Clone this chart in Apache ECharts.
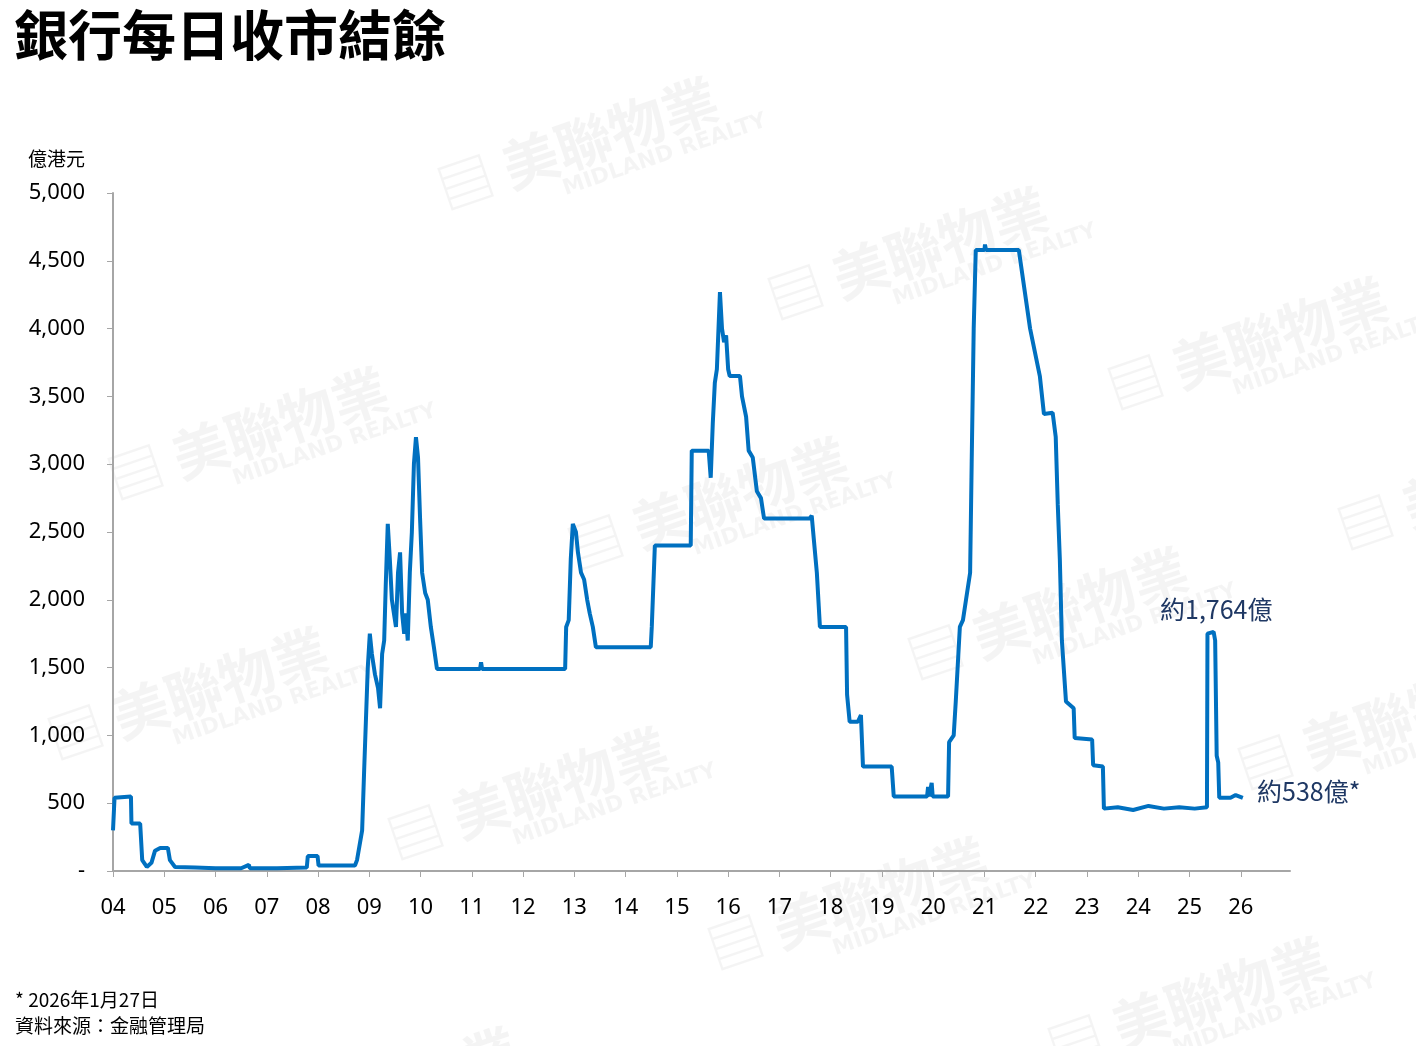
<!DOCTYPE html>
<html><head><meta charset="utf-8">
<script src="https://cdn.jsdelivr.net/npm/echarts@6/dist/echarts.min.js"></script>
<style>html,body{margin:0;padding:0;background:#fff}#c{width:1416px;height:1046px}</style>
</head><body><div id="c"></div>
<script>
// time in decimal years, balance in HK$100m
const years = [
 2004.00,2004.03,2004.06,2004.35,2004.36,2004.53,2004.57,2004.66,2004.75,2004.82,2004.92,2005.07,2005.11,2005.21,2005.6,2006.0,2006.5,2006.65,2006.67,2007.2,2007.78,2007.80,2007.99,2008.01,2008.72,
 2008.76,2008.86,2008.90,2008.97,2009.01,2009.05,2009.11,2009.17,2009.21,2009.25,2009.29,2009.32,2009.36,2009.40,2009.44,2009.48,2009.52,2009.56,2009.60,2009.64,2009.68,2009.71,2009.75,2009.79,2009.83,2009.87,2009.91,2009.95,2009.99,2010.03,2010.09,2010.14,2010.20,2010.26,2010.32,
 2011.16,2011.18,2011.20,2012.82,
 2012.84,2012.89,2012.93,2012.97,2013.03,2013.07,2013.13,2013.19,2013.25,2013.30,2013.36,2013.42,2014.49,
 2014.51,2014.57,2015.27,2015.29,2015.62,2015.66,2015.70,2015.74,2015.78,2015.84,2015.88,2015.92,2015.96,2016.00,2016.03,2016.23,2016.27,2016.35,2016.40,2016.48,2016.56,2016.64,2016.70,2017.59,
 2017.63,2017.67,2017.73,2017.79,2018.30,2018.32,2018.37,2018.53,2018.59,2018.63,2018.75,2019.19,2019.23,
 2019.88,2019.90,2019.92,2019.97,2019.99,2020.01,2020.29,2020.31,2020.40,2020.44,2020.52,2020.58,2020.64,2020.72,2020.75,2020.79,2020.83,2021.00,2021.01,2021.03,2021.67,
 2021.89,2022.08,2022.16,2022.33,2022.39,2022.43,2022.47,2022.51,2022.59,2022.74,2022.76,2023.10,2023.12,2023.31,2023.33,
 2023.6,2023.9,2024.2,2024.5,2024.8,2025.1,2025.34,2025.35,2025.47,2025.50,2025.53,2025.56,2025.58,2025.8,2025.9,2026.04];
const balance = [
 300,540,550,550,350,350,80,30,60,150,170,170,80,30,25,20,20,45,20,20,25,110,110,40,40,
 80,300,750,1500,1750,1600,1450,1350,1200,1600,1700,2100,2560,2300,2000,1900,1800,2200,2350,1900,1750,1900,1700,2200,2500,3000,3200,3050,2600,2200,2050,2000,1800,1650,1490,
 1490,1540,1490,1490,
 1800,1850,2300,2560,2500,2350,2200,2150,2000,1900,1800,1650,1650,
 1800,2400,2400,3100,3100,2900,3300,3600,3700,4270,4000,3900,3950,3700,3650,3650,3500,3350,3100,3050,2800,2750,2600,2600,
 2620,2450,2200,1800,1800,1300,1100,1100,1150,770,770,770,550,
 550,620,550,650,550,550,550,950,1000,1250,1800,1850,2000,2200,3000,4000,4580,4580,4620,4580,4580,
 4000,3650,3370,3380,3200,2700,2300,1700,1250,1200,980,970,780,770,460,
 470,450,480,460,470,460,470,1750,1764,1700,850,800,540,540,560,540];
const yTicks = [0,500,1000,1500,2000,2500,3000,3500,4000,4500,5000];

const chart = echarts.init(document.getElementById('c'));
const wm = [];
const wmPos = [[100,360],[430,70],[760,180],[1100,270],[1330,410],[560,430],[900,540],[40,620],[380,720],[1230,650],[700,830],[1040,930],[230,1020]];
wmPos.forEach(p=>{
  wm.push({type:'text',left:p[0],top:p[1],rotation:0.33,z:-1,style:{text:'▤ 美聯物業',font:'bold 56px "Noto Sans CJK TC"',fill:'rgba(0,0,0,0.045)'}});
  wm.push({type:'text',left:p[0]+130,top:p[1]+40,rotation:0.33,z:-1,style:{text:'MIDLAND REALTY',font:'bold 22px "DejaVu Sans"',fill:'rgba(0,0,0,0.045)'}});
});
chart.setOption({
  animation:false,
  graphic:[...wm,
    {type:'text',left:14,top:8,style:{text:'銀行每日收市結餘',font:'bold 54px "Noto Sans CJK TC"',fill:'#000'}},
    {type:'text',left:28,top:149,style:{text:'億港元',font:'19px "Noto Sans CJK TC"',fill:'#000'}},
    {type:'text',left:1160,top:597,style:{text:'約1,764億',font:'25px "Noto Sans CJK TC"',fill:'#1f3864'}},
    {type:'text',left:1257,top:779,style:{text:'約538億*',font:'25px "Noto Sans CJK TC"',fill:'#1f3864'}},
    {type:'text',left:15,top:990,style:{text:'* 2026年1月27日',font:'19px "Noto Sans CJK TC"',fill:'#000'}},
    {type:'text',left:15,top:1016,style:{text:'資料來源：金融管理局',font:'19px "Noto Sans CJK TC"',fill:'#000'}}
  ],
  grid:{left:113,right:126,top:193,bottom:175},
  xAxis:{type:'value',min:2004,max:2026.96,interval:1,
    axisLine:{lineStyle:{color:'#a6a6a6',width:2}},
    axisTick:{show:true,length:6,lineStyle:{color:'#a6a6a6'}},
    splitLine:{show:false},
    axisLabel:{showMaxLabel:false,color:'#000',fontSize:22,margin:26,fontFamily:'Noto Sans',
      formatter:v=>String(Math.round(v)%100).padStart(2,'0')}},
  yAxis:{type:'value',min:yTicks[0],max:yTicks[yTicks.length-1],interval:500,
    axisLine:{show:true,lineStyle:{color:'#a6a6a6',width:2}},
    axisTick:{show:true,length:6,lineStyle:{color:'#a6a6a6'}},
    splitLine:{show:false},
    axisLabel:{color:'#000',fontSize:22,margin:28,fontFamily:'Noto Sans',
      formatter:v=>v===0?'-':v.toLocaleString('en-US')}},
  series:[{type:'line',data:years.map((y,i)=>[y,balance[i]]),showSymbol:false,
    lineStyle:{color:'#0070c0',width:4},itemStyle:{color:'#0070c0'}}]
});
</script></body></html>
